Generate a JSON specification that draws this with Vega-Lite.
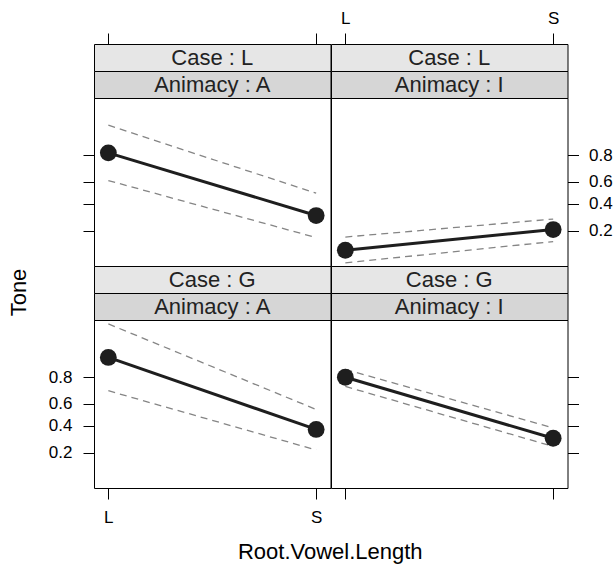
{
  "$schema": "https://vega.github.io/schema/vega-lite/v6.json",
  "padding": {"left": 7, "top": 8, "right": 5, "bottom": 5},
  "datasets": {
    "effects": [
      {"case": "L", "animacy": "A", "length": "L", "fit_logit": 1.474, "lower_logit": 0.456, "upper_logit": 2.489},
      {"case": "L", "animacy": "A", "length": "S", "fit_logit": -0.831, "lower_logit": -1.640, "upper_logit": -0.011},
      {"case": "L", "animacy": "I", "length": "L", "fit_logit": -2.107, "lower_logit": -2.570, "upper_logit": -1.621},
      {"case": "L", "animacy": "I", "length": "S", "fit_logit": -1.346, "lower_logit": -1.787, "upper_logit": -0.960},
      {"case": "G", "animacy": "A", "length": "L", "fit_logit": 2.114, "lower_logit": 0.890, "upper_logit": 3.346},
      {"case": "G", "animacy": "A", "length": "S", "fit_logit": -0.533, "lower_logit": -1.287, "upper_logit": 0.202},
      {"case": "G", "animacy": "I", "length": "L", "fit_logit": 1.386, "lower_logit": 1.048, "upper_logit": 1.673},
      {"case": "G", "animacy": "I", "length": "S", "fit_logit": -0.857, "lower_logit": -1.158, "upper_logit": -0.478}
    ],
    "strips": [
      {"panel": "LA", "strip": "case", "label": "Case : L"},
      {"panel": "LA", "strip": "animacy", "label": "Animacy : A"},
      {"panel": "LI", "strip": "case", "label": "Case : L"},
      {"panel": "LI", "strip": "animacy", "label": "Animacy : I"},
      {"panel": "GA", "strip": "case", "label": "Case : G"},
      {"panel": "GA", "strip": "animacy", "label": "Animacy : A"},
      {"panel": "GI", "strip": "case", "label": "Case : G"},
      {"panel": "GI", "strip": "animacy", "label": "Animacy : I"}
    ]
  },
  "config": {
    "font": "Liberation Sans",
    "view": {"stroke": "black", "strokeWidth": 1},
    "axis": {"domain": false, "grid": false, "tickSize": 11, "tickColor": "black", "tickWidth": 1, "labelFont": "Liberation Sans", "labelFontSize": 17, "labelColor": "black"},
    "concat": {"spacing": 0}
  },
  "title": {"text": "Tone", "orient": "left", "anchor": "middle", "font": "Liberation Sans", "fontSize": 22, "fontWeight": "normal", "color": "black", "offset": 17, "dx": -7},
  "vconcat": [
    {
      "title": {"text": "Root.Vowel.Length", "orient": "bottom", "anchor": "middle", "font": "Liberation Sans", "fontSize": 22, "fontWeight": "normal", "color": "black", "offset": 16},
      "columns": 2,
      "spacing": 0,
      "bounds": "flush",
      "concat": [
        {"width": 236.5, "height": 27, "view": {"fill": "#e6e6e6", "stroke": "black"}, "data": {"name": "strips"}, "transform": [{"filter": "datum.panel == 'LA' && datum.strip == 'case'"}], "mark": {"type": "text", "fontSize": 22, "color": "#222222"}, "encoding": {"text": {"field": "label"}}},
        {"width": 236.5, "height": 27, "view": {"fill": "#e6e6e6", "stroke": "black"}, "data": {"name": "strips"}, "transform": [{"filter": "datum.panel == 'LI' && datum.strip == 'case'"}], "mark": {"type": "text", "fontSize": 22, "color": "#222222"}, "encoding": {"text": {"field": "label"}}},
        {"width": 236.5, "height": 27, "view": {"fill": "#d6d6d6", "stroke": "black"}, "data": {"name": "strips"}, "transform": [{"filter": "datum.panel == 'LA' && datum.strip == 'animacy'"}], "mark": {"type": "text", "fontSize": 22, "color": "#222222"}, "encoding": {"text": {"field": "label"}}},
        {"width": 236.5, "height": 27, "view": {"fill": "#d6d6d6", "stroke": "black"}, "data": {"name": "strips"}, "transform": [{"filter": "datum.panel == 'LI' && datum.strip == 'animacy'"}], "mark": {"type": "text", "fontSize": 22, "color": "#222222"}, "encoding": {"text": {"field": "label"}}},
        {
          "width": 236.5, "height": 168,
          "data": {"name": "effects"},
          "transform": [{"filter": "datum.case == 'L' && datum.animacy == 'A'"}],
          "encoding": {"x": {"field": "length", "type": "ordinal", "scale": {"type": "point", "domain": ["L", "S"], "padding": 0.069}, "axis": {"orient": "top", "offset": 54, "labels": false, "title": null}}},
          "layer": [
            {"mark": {"type": "line", "stroke": "#858585", "strokeWidth": 1.3, "strokeDash": [7, 5]}, "encoding": {"y": {"field": "upper_logit", "type": "quantitative", "scale": {"domain": [-2.686, 3.49], "zero": false, "nice": false}, "axis": {"orient": "left", "values": [-1.3863, -0.4055, 0.4055, 1.3863], "labels": false, "title": null}}}},
            {"mark": {"type": "line", "stroke": "#858585", "strokeWidth": 1.3, "strokeDash": [7, 5]}, "encoding": {"y": {"field": "lower_logit", "type": "quantitative", "axis": {"orient": "left", "values": [-1.3863, -0.4055, 0.4055, 1.3863], "labels": false, "title": null}}}},
            {"mark": {"type": "line", "stroke": "#1e1e1e", "strokeWidth": 3}, "encoding": {"y": {"field": "fit_logit", "type": "quantitative", "axis": {"orient": "left", "values": [-1.3863, -0.4055, 0.4055, 1.3863], "labels": false, "title": null}}}},
            {"mark": {"type": "point", "filled": true, "size": 283, "color": "#1e1e1e", "opacity": 1}, "encoding": {"y": {"field": "fit_logit", "type": "quantitative", "axis": {"orient": "left", "values": [-1.3863, -0.4055, 0.4055, 1.3863], "labels": false, "title": null}}}}
          ]
        },
        {
          "width": 236.5, "height": 168,
          "data": {"name": "effects"},
          "transform": [{"filter": "datum.case == 'L' && datum.animacy == 'I'"}],
          "encoding": {"x": {"field": "length", "type": "ordinal", "scale": {"type": "point", "domain": ["L", "S"], "padding": 0.069}, "axis": {"orient": "top", "offset": 54, "labels": true, "labelPadding": 6, "labelAngle": 0, "title": null}}},
          "layer": [
            {"mark": {"type": "line", "stroke": "#858585", "strokeWidth": 1.3, "strokeDash": [7, 5]}, "encoding": {"y": {"field": "upper_logit", "type": "quantitative", "scale": {"domain": [-2.686, 3.49], "zero": false, "nice": false}, "axis": {"orient": "right", "values": [-1.3863, -0.4055, 0.4055, 1.3863], "labelExpr": "format(1/(1+exp(-datum.value)), '.1f')", "labelPadding": 10, "title": null}}}},
            {"mark": {"type": "line", "stroke": "#858585", "strokeWidth": 1.3, "strokeDash": [7, 5]}, "encoding": {"y": {"field": "lower_logit", "type": "quantitative", "axis": {"orient": "right", "values": [-1.3863, -0.4055, 0.4055, 1.3863], "labelExpr": "format(1/(1+exp(-datum.value)), '.1f')", "labelPadding": 10, "title": null}}}},
            {"mark": {"type": "line", "stroke": "#1e1e1e", "strokeWidth": 3}, "encoding": {"y": {"field": "fit_logit", "type": "quantitative", "axis": {"orient": "right", "values": [-1.3863, -0.4055, 0.4055, 1.3863], "labelExpr": "format(1/(1+exp(-datum.value)), '.1f')", "labelPadding": 10, "title": null}}}},
            {"mark": {"type": "point", "filled": true, "size": 283, "color": "#1e1e1e", "opacity": 1}, "encoding": {"y": {"field": "fit_logit", "type": "quantitative", "axis": {"orient": "right", "values": [-1.3863, -0.4055, 0.4055, 1.3863], "labelExpr": "format(1/(1+exp(-datum.value)), '.1f')", "labelPadding": 10, "title": null}}}}
          ]
        },
        {"width": 236.5, "height": 27, "view": {"fill": "#e6e6e6", "stroke": "black"}, "data": {"name": "strips"}, "transform": [{"filter": "datum.panel == 'GA' && datum.strip == 'case'"}], "mark": {"type": "text", "fontSize": 22, "color": "#222222"}, "encoding": {"text": {"field": "label"}}},
        {"width": 236.5, "height": 27, "view": {"fill": "#e6e6e6", "stroke": "black"}, "data": {"name": "strips"}, "transform": [{"filter": "datum.panel == 'GI' && datum.strip == 'case'"}], "mark": {"type": "text", "fontSize": 22, "color": "#222222"}, "encoding": {"text": {"field": "label"}}},
        {"width": 236.5, "height": 27, "view": {"fill": "#d6d6d6", "stroke": "black"}, "data": {"name": "strips"}, "transform": [{"filter": "datum.panel == 'GA' && datum.strip == 'animacy'"}], "mark": {"type": "text", "fontSize": 22, "color": "#222222"}, "encoding": {"text": {"field": "label"}}},
        {"width": 236.5, "height": 27, "view": {"fill": "#d6d6d6", "stroke": "black"}, "data": {"name": "strips"}, "transform": [{"filter": "datum.panel == 'GI' && datum.strip == 'animacy'"}], "mark": {"type": "text", "fontSize": 22, "color": "#222222"}, "encoding": {"text": {"field": "label"}}},
        {
          "width": 236.5, "height": 168,
          "data": {"name": "effects"},
          "transform": [{"filter": "datum.case == 'G' && datum.animacy == 'A'"}],
          "encoding": {"x": {"field": "length", "type": "ordinal", "scale": {"type": "point", "domain": ["L", "S"], "padding": 0.069}, "axis": {"orient": "bottom", "labels": true, "labelPadding": 10, "labelAngle": 0, "title": null}}},
          "layer": [
            {"mark": {"type": "line", "stroke": "#858585", "strokeWidth": 1.3, "strokeDash": [7, 5]}, "encoding": {"y": {"field": "upper_logit", "type": "quantitative", "scale": {"domain": [-2.686, 3.49], "zero": false, "nice": false}, "axis": {"orient": "left", "values": [-1.3863, -0.4055, 0.4055, 1.3863], "labelExpr": "format(1/(1+exp(-datum.value)), '.1f')", "labelPadding": 11, "title": null}}}},
            {"mark": {"type": "line", "stroke": "#858585", "strokeWidth": 1.3, "strokeDash": [7, 5]}, "encoding": {"y": {"field": "lower_logit", "type": "quantitative", "axis": {"orient": "left", "values": [-1.3863, -0.4055, 0.4055, 1.3863], "labelExpr": "format(1/(1+exp(-datum.value)), '.1f')", "labelPadding": 11, "title": null}}}},
            {"mark": {"type": "line", "stroke": "#1e1e1e", "strokeWidth": 3}, "encoding": {"y": {"field": "fit_logit", "type": "quantitative", "axis": {"orient": "left", "values": [-1.3863, -0.4055, 0.4055, 1.3863], "labelExpr": "format(1/(1+exp(-datum.value)), '.1f')", "labelPadding": 11, "title": null}}}},
            {"mark": {"type": "point", "filled": true, "size": 283, "color": "#1e1e1e", "opacity": 1}, "encoding": {"y": {"field": "fit_logit", "type": "quantitative", "axis": {"orient": "left", "values": [-1.3863, -0.4055, 0.4055, 1.3863], "labelExpr": "format(1/(1+exp(-datum.value)), '.1f')", "labelPadding": 11, "title": null}}}}
          ]
        },
        {
          "width": 236.5, "height": 168,
          "data": {"name": "effects"},
          "transform": [{"filter": "datum.case == 'G' && datum.animacy == 'I'"}],
          "encoding": {"x": {"field": "length", "type": "ordinal", "scale": {"type": "point", "domain": ["L", "S"], "padding": 0.069}, "axis": {"orient": "bottom", "labels": false, "title": null}}},
          "layer": [
            {"mark": {"type": "line", "stroke": "#858585", "strokeWidth": 1.3, "strokeDash": [7, 5]}, "encoding": {"y": {"field": "upper_logit", "type": "quantitative", "scale": {"domain": [-2.686, 3.49], "zero": false, "nice": false}, "axis": {"orient": "right", "values": [-1.3863, -0.4055, 0.4055, 1.3863], "labels": false, "title": null}}}},
            {"mark": {"type": "line", "stroke": "#858585", "strokeWidth": 1.3, "strokeDash": [7, 5]}, "encoding": {"y": {"field": "lower_logit", "type": "quantitative", "axis": {"orient": "right", "values": [-1.3863, -0.4055, 0.4055, 1.3863], "labels": false, "title": null}}}},
            {"mark": {"type": "line", "stroke": "#1e1e1e", "strokeWidth": 3}, "encoding": {"y": {"field": "fit_logit", "type": "quantitative", "axis": {"orient": "right", "values": [-1.3863, -0.4055, 0.4055, 1.3863], "labels": false, "title": null}}}},
            {"mark": {"type": "point", "filled": true, "size": 283, "color": "#1e1e1e", "opacity": 1}, "encoding": {"y": {"field": "fit_logit", "type": "quantitative", "axis": {"orient": "right", "values": [-1.3863, -0.4055, 0.4055, 1.3863], "labels": false, "title": null}}}}
          ]
        }
      ]
    }
  ]
}
